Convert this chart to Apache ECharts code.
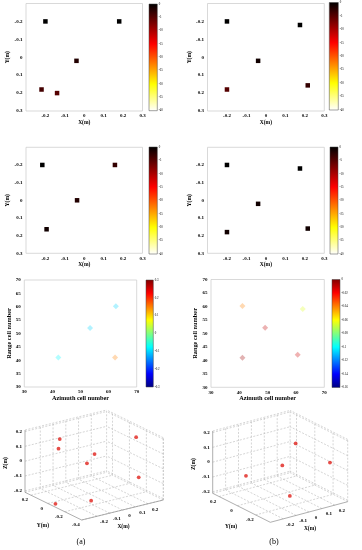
<!DOCTYPE html>
<html><head><meta charset="utf-8">
<script src="https://cdn.jsdelivr.net/npm/echarts@6/dist/echarts.min.js"></script>
<style>html,body{margin:0;padding:0;background:#fff}#c{width:362px;height:550px}</style>
</head><body><div id="c"></div>
<script>
const FONT = '"Liberation Serif","Times New Roman",serif';
// ---------------- DATA ----------------
// Row 1 (hot colormap, dB)
const a1X = [-0.2, 0.18, -0.04, -0.22, -0.14];
const a1Y = [-0.2, -0.2, 0.02, 0.18, 0.2];
const a1V = [0, 0, -2, -4, -5];
const b1X = [-0.2, 0.175, -0.04, -0.2, 0.215];
const b1Y = [-0.2, -0.18, 0.02, 0.18, 0.157];
const b1V = [0, 0, -1, -5, -3];
// Row 2
const a2X = [-0.216, 0.158, -0.037, -0.194];
const a2Y = [-0.2, -0.2, 0.0, 0.164];
const a2V = [0, -3, -2, -1];
const b2X = [-0.2, 0.175, -0.04, -0.2, 0.215];
const b2Y = [-0.2, -0.18, 0.02, 0.18, 0.16];
const b2V = [0, 0, -1, -1, -1];
// Row 3 (jet colormap)
const a3Az = [62.6, 53.4, 42.1, 62.3];
const a3Rg = [60.2, 52.1, 41, 41];
const a3V = [-0.1, -0.1, -0.08, 0.15];
const b3Az = [41.1, 62.4, 49.1, 41.1, 60.6];
const b3Rg = [60.2, 59.1, 52.1, 41, 42.1];
const b3V = [-0.04, -0.065, -0.01, -0.005, -0.012];
// Row 4 (3D)
const a4X = [-0.22, -0.17, -0.04, -0.02, 0.2, 0.26, -0.3, -0.08];
const a4Y = [0.01, 0.1, -0.13, -0.01, -0.26, -0.2, -0.06, -0.15];
const a4Z = [0.2, 0.1, 0.1, 0, 0.2, -0.1, -0.2, -0.2];
const b4X = [0.01, 0.02, 0.29, -0.12, 0.05];
const b4Y = [-0.2, -0.04, -0.18, 0.16, -0.08];
const b4Z = [0.2, 0, 0, -0.1, -0.2];
// 3D tick labels
const x3Ticks = [-0.2, -0.1, 0, 0.1, 0.2];
const y3TicksA = [-0.4, -0.2, 0, 0.2];
const y3TicksB = [-0.2, 0, 0.2];
const z3Ticks = [-0.2, -0.1, 0, 0.1, 0.2];
const captions = ['(a)', '(b)'];
// colormaps
const HOT = ['#ffffff','#ffff80','#ffff00','#ffaa00','#ff5500','#ff0000','#aa0000','#550000','#000000'];
const JET = ['#000080','#0000ff','#0080ff','#00ffff','#80ff80','#ffff00','#ff8000','#ff0000','#800000'];

// ---------------- LAYOUT ----------------
const grids = [
 {left:26, top:3.5, width:116.5, height:107.5},
 {left:207.5, top:3.5, width:116.8, height:107.5},
 {left:26, top:147.3, width:116.5, height:106},
 {left:207.5, top:147.3, width:116.8, height:106},
 {left:24.3, top:280, width:112.4, height:107},
 {left:211, top:279.5, width:113.3, height:107.8},
 {left:149, top:4, width:8.3, height:106.7},
 {left:329.3, top:2.5, width:9, height:107.5},
 {left:149, top:147, width:8.3, height:107},
 {left:330, top:147, width:8, height:107},
 {left:146, top:280, width:7.3, height:107},
 {left:332, top:279.5, width:8, height:108},
 {left:0, top:0, width:362, height:550}
];
const gridOpts = grids.map((g,i) => Object.assign({}, g, {
  show: i < 6, borderColor:'#cfcfcf', borderWidth:0.8, backgroundColor:'transparent', containLabel:false
}));

const tickFmt1 = v => String(Math.round(v*10)/10);
const tickFmt2 = v => String(Math.round(v*100)/100);
const lblStyle = {fontSize:5, fontWeight:'bold', fontFamily:FONT, color:'#000'};
const nameStyle = {fontSize:5.5, fontWeight:'bold', fontFamily:FONT, color:'#000'};

function posAxes(i, isRange){
  const x = isRange ? {min:30, max:70, interval:10, name:'Azimuth cell number', gap:7, fmt:v=>String(v), showMin:true}
                    : {min:-0.3, max:0.3, interval:0.1, name:'X(m)', gap:8.5, fmt:tickFmt1, showMin:false};
  const y = isRange ? {min:30, max:70, interval:5, name:'Range cell number', gap:11, fmt:v=>String(v), showMin:true, inverse:false}
                    : {min:-0.3, max:0.3, interval:0.1, name:'Y(m)', gap:11.5, fmt:tickFmt1, showMin:false, inverse:true};
  const ns = isRange ? Object.assign({}, nameStyle, {fontSize:6.3}) : nameStyle;
  return [{
    type:'value', gridIndex:i, min:x.min, max:x.max, interval:x.interval,
    axisLine:{show:false}, axisTick:{show:false}, splitLine:{show:false},
    axisLabel:Object.assign({margin:2.5, formatter:x.fmt, showMinLabel:x.showMin, showMaxLabel:true}, lblStyle),
    name:x.name, nameLocation:'middle', nameGap:x.gap, nameTextStyle:ns
  },{
    type:'value', gridIndex:i, min:y.min, max:y.max, interval:y.interval, inverse:y.inverse,
    axisLine:{show:false}, axisTick:{show:false}, splitLine:{show:false},
    axisLabel:Object.assign({margin:3.5, formatter:y.fmt, showMinLabel:y.showMin, showMaxLabel:true}, lblStyle),
    name:y.name, nameLocation:'middle', nameGap:y.gap, nameTextStyle:ns
  }];
}
const xAxes = [], yAxes = [];
for (let i=0;i<6;i++){ const ax = posAxes(i, i>=4); xAxes.push(ax[0]); yAxes.push(ax[1]); }

const cbars = [
 {min:-40, max:0, interval:5, cmap:HOT, fmt:v=>String(v)},
 {min:-40, max:0, interval:5, cmap:HOT, fmt:v=>String(v)},
 {min:-40, max:0, interval:5, cmap:HOT, fmt:v=>String(v)},
 {min:-40, max:0, interval:5, cmap:HOT, fmt:v=>String(v)},
 {min:-0.3, max:0.3, interval:0.1, cmap:JET, fmt:tickFmt1},
 {min:-0.16, max:0, interval:0.02, cmap:JET, fmt:tickFmt2}
];
cbars.forEach((c,k) => {
  const gi = 6+k;
  xAxes.push({type:'value', gridIndex:gi, min:0, max:1, show:false});
  yAxes.push({type:'value', gridIndex:gi, min:c.min, max:c.max, interval:c.interval, position:'right',
    axisLine:{show:false}, axisTick:{show:false}, splitLine:{show:false},
    axisLabel:{fontSize:3, fontFamily:FONT, color:'#000', margin:1.5, formatter:c.fmt}});
});
// 3D canvas axes
xAxes.push({type:'value', gridIndex:12, min:0, max:362, show:false});
yAxes.push({type:'value', gridIndex:12, min:0, max:550, inverse:true, show:false});

// ---------------- SERIES ----------------
const series = [];
const plotSets = [
 [a1X,a1Y,a1V],[b1X,b1Y,b1V],[a2X,a2Y,a2V],[b2X,b2Y,b2V],[a3Az,a3Rg,a3V],[b3Az,b3Rg,b3V]
];
plotSets.forEach((s,i) => {
  const hot = i < 4;
  series.push({
    type:'scatter', xAxisIndex:i, yAxisIndex:i, silent:true,
    symbol: hot ? 'rect' : 'diamond', symbolSize: hot ? 4.5 : 6,
    itemStyle: hot ? {opacity:1} : {opacity:0.3},
    data: s[0].map((x,j) => [x, s[1][j], s[2][j]])
  });
});
const visualMaps = plotSets.map((s,i) => ({
  show:false, type:'continuous', seriesIndex:i, dimension:2,
  min:cbars[i].min, max:cbars[i].max, inRange:{color:cbars[i].cmap}
}));
// colorbars
cbars.forEach((c,k) => {
  const gi = 6+k;
  const stops = c.cmap.map((col,j) => ({offset:j/(c.cmap.length-1), color:c.cmap[c.cmap.length-1-j]}));
  series.push({
    type:'custom', xAxisIndex:gi, yAxisIndex:gi, silent:true, data:[[0, c.min]],
    renderItem:(params, api) => {
      const p0 = api.coord([0, c.max]), p1 = api.coord([1, c.min]);
      return {type:'rect', shape:{x:p0[0], y:p0[1], width:p1[0]-p0[0], height:p1[1]-p0[1]},
        style:{fill:{type:'linear', x:0, y:0, x2:0, y2:1, colorStops:stops}, stroke:'#444', lineWidth:0.5}};
    }
  });
});

// 3D boxes (screen geometry of the axis box)
const boxes = [
 {F:[81.7,520], ex:[81.6,-20], ey:[-56.7,-27.7], ez:[0,-62.3], xr:[-0.32,0.32], yr:[-0.4,0.27], zr:[-0.21,0.21],
  yT:y3TicksA, pts:[a4X,a4Y,a4Z], cap:captions[0], capPos:[81,542]},
 {F:[270.3,522.3], ex:[77.4,-20.6], ey:[-57.6,-29], ez:[0,-62.3], xr:[-0.3,0.3], yr:[-0.36,0.27], zr:[-0.21,0.21],
  yT:y3TicksB, pts:[b4X,b4Y,b4Z], cap:captions[1], capPos:[274,542]}
];
function proj(b, x, y, z){
  const u=(x-b.xr[0])/(b.xr[1]-b.xr[0]), v=(y-b.yr[0])/(b.yr[1]-b.yr[0]), w=(z-b.zr[0])/(b.zr[1]-b.zr[0]);
  return [b.F[0]+u*b.ex[0]+v*b.ey[0]+w*b.ez[0], b.F[1]+u*b.ex[1]+v*b.ey[1]+w*b.ez[1]];
}
function segSeries(segs, color, width, dash){
  return {type:'custom', xAxisIndex:12, yAxisIndex:12, silent:true, data:segs,
    renderItem:(params, api) => {
      const a = api.coord([api.value(0), api.value(1)]), b = api.coord([api.value(2), api.value(3)]);
      return {type:'line', shape:{x1:a[0],y1:a[1],x2:b[0],y2:b[1]},
        style:{stroke:color, lineWidth:width, lineDash:dash}};
    }};
}
function textSeries(items){
  return {type:'custom', xAxisIndex:12, yAxisIndex:12, silent:true,
    data: items.map((t,i) => [t.p[0], t.p[1], i]),
    renderItem:(params, api) => {
      const t = items[api.value(2)];
      const p = api.coord([api.value(0), api.value(1)]);
      return {type:'text', x:p[0], y:p[1], rotation:t.rot||0,
        style:{text:t.t, fill:'#000', align:t.align||'center', verticalAlign:'middle',
          font:(t.w||'bold')+' '+t.fs+'px '+FONT}};
    }};
}
boxes.forEach(b => {
  const [x0,x1]=b.xr, [y0,y1]=b.yr, [z0,z1]=b.zr;
  const dashed = [], solid = [], texts = [];
  const S = (A,B) => [...proj(b,...A), ...proj(b,...B)];
  x3Ticks.forEach(x => { dashed.push(S([x,y0,z0],[x,y1,z0])); dashed.push(S([x,y1,z0],[x,y1,z1])); });
  b.yT.forEach(y => { dashed.push(S([x0,y,z0],[x1,y,z0])); dashed.push(S([x1,y,z0],[x1,y,z1])); });
  z3Ticks.forEach(z => { dashed.push(S([x0,y1,z],[x1,y1,z])); dashed.push(S([x1,y0,z],[x1,y1,z])); });
  dashed.push(S([x1,y0,z0],[x1,y0,z1]), S([x1,y1,z0],[x1,y1,z1]),
              S([x0,y1,z1],[x1,y1,z1]), S([x1,y0,z1],[x1,y1,z1]),
              S([x0,y1,z0],[x1,y1,z0]), S([x1,y0,z0],[x1,y1,z0]));
  solid.push(S([x0,y0,z0],[x1,y0,z0]), S([x0,y0,z0],[x0,y1,z0]), S([x0,y1,z0],[x0,y1,z1]));
  x3Ticks.forEach(x => { const p = proj(b,x,y0,z0); texts.push({p:[p[0]+7,p[1]+5.5], t:tickFmt1(x), fs:5}); });
  b.yT.forEach(y => { const p = proj(b,x0,y,z0); texts.push({p:[p[0]-6,p[1]+5], t:tickFmt1(y), fs:5}); });
  z3Ticks.forEach(z => { const p = proj(b,x0,y1,z); texts.push({p:[p[0]-3,p[1]], t:tickFmt1(z), fs:5, align:'right'}); });
  const mx = proj(b,(x0+x1)/2,y0,z0), my = proj(b,x0,(y0+y1)/2,z0), mz = proj(b,x0,y1,(z0+z1)/2);
  texts.push({p:[mx[0]+1, mx[1]+16.5], t:'X(m)', fs:5.5});
  texts.push({p:[my[0]-10.5, my[1]+19], t:'Y(m)', fs:5.5});
  texts.push({p:[mz[0]-19.5, mz[1]+2], t:'Z(m)', fs:5.5, rot:Math.PI/2});
  texts.push({p:b.capPos, t:b.cap, fs:8, w:'normal'});
  series.push(segSeries(dashed, '#b8b8b8', 0.6, [2,1.5]));
  series.push(segSeries(solid, '#8c8c8c', 0.7, null));
  series.push(textSeries(texts));
  const [px,py,pz] = b.pts;
  series.push({type:'scatter', xAxisIndex:12, yAxisIndex:12, silent:true, symbol:'circle', symbolSize:3.8,
    itemStyle:{color:'#e0201a'}, data: px.map((x,j) => proj(b, x, py[j], pz[j]))});
});

const chart = echarts.init(document.getElementById('c'), null, {renderer:'canvas'});
chart.setOption({
  animation:false, backgroundColor:'#fff',
  grid:gridOpts, xAxis:xAxes, yAxis:yAxes, visualMap:visualMaps, series:series
});
</script></body></html>
